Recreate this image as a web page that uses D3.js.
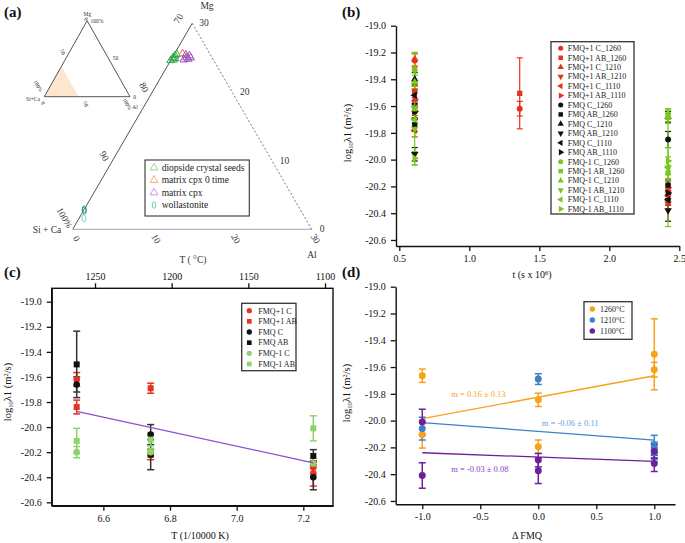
<!DOCTYPE html>
<html><head><meta charset="utf-8">
<script src="https://cdn.jsdelivr.net/npm/d3@7"></script>
<style>
body{margin:0;background:#fff;}
svg text{font-family:"Liberation Serif","Times New Roman",serif;}
</style></head>
<body><svg id="c" width="685" height="543"></svg>
<script>
// ---------------- DATA ----------------
// Panel (a): ternary compositions [Al %, Mg %] (remaining = Si + Ca)
const diopsideSeeds = [[0.1,25.0],[0.3,24.7],[0.2,25.3],[0.4,24.9],[0.0,24.6],[0.3,25.5]];
const matrixCpx0 = [[1.0,25.6]];
const matrixCpx = [[1.5,25.4],[1.8,25.0],[2.1,24.8],[1.6,24.7],[2.0,25.3],[2.3,25.0]];
const wollastonite = [[0.0,2.9],[0.1,2.7],[0.6,1.6]];
const insetShade = [[0,0],[0,40],[40,0]];
const ternLegend = ["diopside crystal seeds","matrix cpx 0 time","matrix cpx","wollastonite"];
const mainTicks = [0,10,20,30];

// Panel (b): log10 λ1 vs time
const bSeries = ["FMQ+1 C_1260","FMQ+1 AB_1260","FMQ+1 C_1210","FMQ+1 AB_1210","FMQ+1 C_1110","FMQ+1 AB_1110",
  "FMQ C_1260","FMQ AB_1260","FMQ C_1210","FMQ AB_1210","FMQ C_1110","FMQ AB_1110",
  "FMQ-1 C_1260","FMQ-1 AB_1260","FMQ-1 C_1210","FMQ-1 AB_1210","FMQ-1 C_1110","FMQ-1 AB_1110"];
const bTimes = [0.61, 1.36, 2.42];
// values per series at bTimes (null = none)
const bValues = [
  [-19.26,-19.62,null],[-19.49,-19.505,null],[-19.25,null,-20.23],[-19.62,null,-20.33],[-19.78,null,-20.27],[-19.55,null,-20.21],
  [-19.64,null,-19.85],[-19.74,null,-20.19],[-19.40,null,-19.68],[-19.96,null,-20.38],[-19.52,null,-20.30],[-19.64,null,-20.25],
  [-19.33,null,-19.66],[-19.62,null,-20.10],[-19.42,null,-19.68],[-19.77,null,-20.06],[-19.70,null,-20.06],[-19.99,null,-20.01]];
const bErrors = [
  [0.05,0.055,0],[0.05,0.265,0],[0.05,0,0.04],[0.05,0,0.04],[0.05,0,0.04],[0.05,0,0.05],
  [0.06,0,0.06],[0.05,0,0.04],[0.05,0,0.04],[0.05,0,0.08],[0.04,0,0.04],[0.05,0,0.04],
  [0.12,0,0.04],[0.42,0,0.05],[0.05,0,0.05],[0.06,0,0.08],[0.06,0,0.44],[0.05,0,0.10]];
const bXTicks = [0.5,1.0,1.5,2.0,2.5];
const yTicks = [-19.0,-19.2,-19.4,-19.6,-19.8,-20.0,-20.2,-20.4,-20.6];

// Panel (c): Arrhenius
const cSeries = ["FMQ+1 C","FMQ+1 AB","FMQ C","FMQ AB","FMQ-1 C","FMQ-1 AB"];
const cInvT = [6.52, 6.742, 7.23];
const cValues = [
  [-19.62,-20.22,-20.32],[-19.84,-19.69,-20.37],[-19.66,-20.06,-20.40],
  [-19.50,-20.22,-20.23],[-20.20,-20.20,-20.29],[-20.11,-20.10,-20.01]];
const cErrors = [
  [0.055,0.04,0.05],[0.055,0.04,0.10],[0.06,0.08,0.10],
  [0.265,0.12,0.05],[0.045,0.03,0.04],[0.10,0.05,0.10]];
const cFit = [[6.52,-19.875],[7.23,-20.285]];
const cXTicks = [6.6,6.8,7.0,7.2];
const cTopTicks = [1250,1200,1150,1100];

// Panel (d): log10 λ1 vs ΔFMQ
const dSeries = ["1260°C","1210°C","1100°C"];
const dX = [[-1,-1,0,0,1,1],[-1,0,1,1,1],[-1,-1,0,0,1,1]];
const dY = [[-19.665,-20.105,-19.845,-20.195,-19.505,-19.62],
            [-20.06,-19.69,-20.20,-20.22,-20.24],
            [-20.01,-20.41,-20.295,-20.375,-20.32,-20.23]];
const dErr = [[0.05,0.10,0.05,0.05,0.265,0.055],
              [0.085,0.04,0.09,0.06,0.07],
              [0.095,0.095,0.05,0.095,0.06,0.05]];
const dFit = [[[-1,-19.985],[1,-19.665]],[[-1,-20.015],[1,-20.145]],[[-1,-20.24],[1,-20.305]]];
const dSlopes = ["m = 0.16 ± 0.13","m = -0.06 ± 0.11","m = -0.03 ± 0.08"];
const dXTicks = [-1.0,-0.5,0.0,0.5,1.0];

// ---------------- DRAW ----------------
const svg = d3.select("#c");
const f1 = d3.format(".1f");
const fmt1 = v => f1(v).replace("−","-");
function styleAxis(g, fs){
  g.selectAll("path.domain").attr("stroke","#111").attr("stroke-width",1.4);
  g.selectAll(".tick line").attr("stroke","#111").attr("stroke-width",1.3);
  g.selectAll(".tick text").attr("font-family","Liberation Serif, serif").attr("font-size",fs||10).attr("fill","#111");
}
function yLabel(x,y){
  const t = svg.append("text").attr("transform",`translate(${x},${y}) rotate(-90)`)
    .attr("text-anchor","middle").attr("font-size",10.5).attr("fill","#111");
  t.append("tspan").text("log");
  t.append("tspan").attr("font-size",6.5).attr("dy",2).text("10");
  t.append("tspan").attr("dy",-2).text("λ1 (m");
  t.append("tspan").attr("font-size",6.5).attr("dy",-3.5).text("2");
  t.append("tspan").attr("dy",3.5).text("/s)");
}
function panelLabel(txt,x,y){
  svg.append("text").attr("x",x).attr("y",y).attr("font-size",15).attr("font-weight","bold").attr("fill","#111").text(txt);
}
function errBar(g,x,y1,y2,color,cap,sw){
  g.append("line").attr("x1",x).attr("x2",x).attr("y1",y1).attr("y2",y2).attr("stroke",color).attr("stroke-width",sw||1.3);
  [y1,y2].forEach(yy=>g.append("line").attr("x1",x-cap).attr("x2",x+cap).attr("y1",yy).attr("y2",yy).attr("stroke",color).attr("stroke-width",sw||1.3));
}
const symTypes = {circle:d3.symbolCircle, square:d3.symbolSquare, triangle:d3.symbolTriangle};
function marker(g,shape,x,y,size,color,rot){
  g.append("path").attr("d",d3.symbol().type(symTypes[shape]).size(size)())
    .attr("transform",`translate(${x},${y}) rotate(${rot||0})`).attr("fill",color);
}

// ===== Panel (a) =====
panelLabel("(a)",4,17);
const ga = svg.append("g");
const tx = d3.scaleLinear().domain([0,30]).range([72.7,311.7]);
const ty = d3.scaleLinear().domain([0,30]).range([229.3,23.3]);
const tp = d=>[tx(d[0]+d[1]/2), ty(d[1])];
const A=tp([0,0]),B=tp([30,0]),C=tp([0,30]);
ga.append("line").attr("x1",A[0]).attr("y1",A[1]).attr("x2",C[0]).attr("y2",C[1]).attr("stroke","#555").attr("stroke-width",1);
ga.append("line").attr("x1",A[0]).attr("y1",A[1]).attr("x2",B[0]).attr("y2",B[1]).attr("stroke","#b4b4cc").attr("stroke-width",1.3);
ga.append("line").attr("x1",B[0]).attr("y1",B[1]).attr("x2",C[0]).attr("y2",C[1]).attr("stroke","#555").attr("stroke-width",0.8).attr("stroke-dasharray","2,2");
const fsA=9.5;
mainTicks.forEach(v=>{
  const p=tp([0,v]);
  ga.append("text").attr("transform",`translate(${p[0]-11},${p[1]+(v===0?-10:-3)}) rotate(${v===30?-60:60})`)
    .attr("text-anchor","middle").attr("font-size",fsA).attr("fill","#333").text(v===0?"100%":String(100-v));
  const q=tp([v,0]);
  ga.append("text").attr("transform",`translate(${q[0]+1},${q[1]+11}) rotate(60)`)
    .attr("text-anchor","middle").attr("font-size",fsA).attr("fill","#333").text(v);
  const r=tp([30-v,v]);
  ga.append("text").attr("x",r[0]+(v===30?7:8)).attr("y",r[1]+3).attr("font-size",fsA).attr("fill","#333").text(v);
});
ga.append("text").attr("x",207).attr("y",9).attr("text-anchor","middle").attr("font-size",fsA).attr("fill","#333").text("Mg");
ga.append("text").attr("x",312).attr("y",258).attr("text-anchor","middle").attr("font-size",fsA).attr("fill","#333").text("Al");
ga.append("text").attr("x",47).attr("y",233).attr("text-anchor","middle").attr("font-size",fsA).attr("fill","#333").text("Si + Ca");
ga.append("text").attr("x",193).attr("y",263).attr("text-anchor","middle").attr("font-size",fsA).attr("fill","#333").text("T ( °C)");
// inset ternary
const ix = d3.scaleLinear().domain([0,100]).range([44.3,130]);
const iy = d3.scaleLinear().domain([0,100]).range([96.7,20.7]);
const ip = d=>[ix(d[0]+d[1]/2), iy(d[1])];
ga.append("polygon").attr("points",insetShade.map(d=>ip(d).join(",")).join(" ")).attr("fill","#fce6cf");
const iA=ip([0,0]),iB=ip([100,0]),iC=ip([0,100]);
ga.append("polygon").attr("points",[iA,iB,iC].map(d=>d.join(",")).join(" ")).attr("fill","none").attr("stroke","#555").attr("stroke-width",1);
const fsI=5.5;
function itext(x,y,t,rot){ga.append("text").attr("transform",`translate(${x},${y}) rotate(${rot||0})`).attr("text-anchor","middle").attr("font-size",fsI).attr("fill","#333").text(t);}
itext(87.3,16,"Mg"); itext(97,23,"100%"); itext(84.5,20,"0",60);
itext(61,53,"50",60); itext(115.5,60,"50"); itext(134.5,99,"0");
itext(135,109,"Al"); itext(125.5,105,"100%",60); itext(84,105,"50",60);
itext(33,101,"Si+Ca"); itext(36.5,87,"100%",60); itext(41.5,104,"0",60);
const triSym = d3.symbol().type(d3.symbolTriangle).size(26)();
function openTri(pts,col){
  pts.forEach(d=>{const p=tp(d);ga.append("path").attr("d",triSym).attr("transform",`translate(${p[0]},${p[1]})`).attr("fill","none").attr("stroke",col).attr("stroke-width",1);});
}
openTri(diopsideSeeds,"#2faa4a");
openTri(matrixCpx0,"#f07a3a");
openTri(matrixCpx,"#a24cc4");
wollastonite.forEach((d,i)=>{const p=tp(d);ga.append("ellipse").attr("cx",p[0]).attr("cy",p[1]).attr("rx",2).attr("ry",3.6).attr("fill","none").attr("stroke",i<2?"#2a9d8f":"#7fd3bf").attr("stroke-width",1);});
ga.append("rect").attr("x",145).attr("y",160).attr("width",104.3).attr("height",56).attr("fill","#fff").attr("stroke","#333").attr("stroke-width",1.1);
const legCols=["#8fd68f","#f4a070","#c98ae0","#5fc8b0"];
ternLegend.forEach((t,i)=>{
  const y=167.7+i*12.45;
  if(i<3) ga.append("path").attr("d",triSym).attr("transform",`translate(154,${y})`).attr("fill","none").attr("stroke",legCols[i]).attr("stroke-width",0.9);
  else ga.append("ellipse").attr("cx",154).attr("cy",y).attr("rx",1.8).attr("ry",3.3).attr("fill","none").attr("stroke",legCols[i]).attr("stroke-width",0.9);
  ga.append("text").attr("x",161.7).attr("y",y+3.2).attr("font-size",9.5).attr("fill","#222").text(t);
});

// ===== Panel (b) =====
panelLabel("(b)",342,17);
const bx = d3.scaleLinear().domain([0.4764,2.5]).range([396,679.3]);
const by = d3.scaleLinear().domain([-20.645,-19.0]).range([246,25.7]);
const gbx = svg.append("g").attr("transform","translate(0,246)").call(d3.axisBottom(bx).tickValues(bXTicks).tickFormat(fmt1).tickSize(5).tickPadding(4).tickSizeOuter(0));
styleAxis(gbx);
const gby = svg.append("g").attr("transform","translate(396,0)").call(d3.axisLeft(by).tickValues(yTicks).tickFormat(fmt1).tickSize(5).tickPadding(5).tickSizeOuter(0));
styleAxis(gby);
yLabel(351,133);
const bt = svg.append("text").attr("x",532).attr("y",278).attr("text-anchor","middle").attr("font-size",10).attr("fill","#111");
bt.append("tspan").text("t (s x 10"); bt.append("tspan").attr("font-size",6.5).attr("dy",-3.5).text("6"); bt.append("tspan").attr("dy",3.5).text(")");
const bColors = ["#e8321e","#111111","#78c81e"];
const bShapes = [["circle",0],["square",0],["triangle",0],["triangle",180],["triangle",-90],["triangle",90]];
const gb = svg.append("g");
bSeries.forEach((s,i)=>{
  const col=bColors[Math.floor(i/6)];
  bTimes.forEach((t,j)=>{const v=bValues[i][j]; if(v===null)return;
    errBar(gb,bx(t),by(v+bErrors[i][j]),by(v-bErrors[i][j]),col,3,1.2);});
});
bSeries.forEach((s,i)=>{
  const col=bColors[Math.floor(i/6)], sh=bShapes[i%6];
  bTimes.forEach((t,j)=>{const v=bValues[i][j]; if(v===null)return;
    marker(gb,sh[0],bx(t),by(v),sh[0]==="circle"?28:sh[0]==="square"?28:24,col,sh[1]);});
});
svg.append("rect").attr("x",551).attr("y",41.7).attr("width",83).attr("height",172.3).attr("fill","#fff").attr("stroke","#333").attr("stroke-width",1.3);
bSeries.forEach((s,i)=>{
  const y=48.3+i*9.45, col=bColors[Math.floor(i/6)], sh=bShapes[i%6];
  marker(svg,sh[0],560.7,y,sh[0]==="circle"?20:sh[0]==="square"?20:17,col,sh[1]);
  svg.append("text").attr("x",567.7).attr("y",y+2.8).attr("font-size",8).attr("fill","#222").text(s);
});

// ===== Panel (c) =====
panelLabel("(c)",4,277);
const cx = d3.scaleLinear().domain([6.445,7.2891]).range([51.7,333]);
const cy = d3.scaleLinear().domain([-20.627,-18.893]).range([505.7,288.3]);
const cT = d3.scaleLinear().domain([1250,1100]).range([95,325]);
svg.append("rect").attr("x",51.7).attr("y",288.3).attr("width",333-51.7).attr("height",505.7-288.3).attr("fill","none").attr("stroke","#111").attr("stroke-width",1.4);
const gcx = svg.append("g").attr("transform","translate(0,505.7)").call(d3.axisBottom(cx).tickValues(cXTicks).tickFormat(fmt1).tickSize(5).tickPadding(4).tickSizeOuter(0));
styleAxis(gcx);
const gct = svg.append("g").attr("transform","translate(0,288.3)").call(d3.axisTop(cT).tickValues(cTopTicks).tickFormat(d3.format("d")).tickSize(5).tickPadding(3).tickSizeOuter(0));
styleAxis(gct); gct.select("path.domain").remove();
const gcy = svg.append("g").attr("transform","translate(51.7,0)").call(d3.axisLeft(cy).tickValues(yTicks).tickFormat(fmt1).tickSize(5).tickPadding(5).tickSizeOuter(0));
styleAxis(gcy);
yLabel(11,392);
svg.append("text").attr("x",200).attr("y",539).attr("text-anchor","middle").attr("font-size",10).attr("fill","#111").text("T (1/10000 K)");
const cColors = ["#e8321e","#e8321e","#111111","#111111","#8ed46a","#8ed46a"];
const cShapes = ["circle","square","circle","square","circle","square"];
const gc = svg.append("g");
cSeries.forEach((s,i)=>{cInvT.forEach((t,j)=>{const v=cValues[i][j];
  errBar(gc,cx(t),cy(v+cErrors[i][j]),cy(v-cErrors[i][j]),cColors[i]==="#111111"?"#333":cColors[i],3.5,1.5);});});
cSeries.forEach((s,i)=>{cInvT.forEach((t,j)=>{marker(gc,cShapes[i],cx(t),cy(cValues[i][j]),cShapes[i]==="circle"?34:36,cColors[i]);});});
svg.append("line").attr("x1",cx(cFit[0][0])).attr("y1",cy(cFit[0][1])).attr("x2",cx(cFit[1][0])).attr("y2",cy(cFit[1][1]))
  .attr("stroke","#8a50d2").attr("stroke-width",1.2);
svg.append("rect").attr("x",241.7).attr("y",303.3).attr("width",54.3).attr("height",67.4).attr("fill","#fff").attr("stroke","#333").attr("stroke-width",1.3);
cSeries.forEach((s,i)=>{const y=310.7+i*10.66;
  marker(svg,cShapes[i],249.3,y,22,cColors[i]);
  svg.append("text").attr("x",258.3).attr("y",y+2.8).attr("font-size",8).attr("fill","#222").text(s);});

// ===== Panel (d) =====
panelLabel("(d)",342,277);
const dx = d3.scaleLinear().domain([-1.229,1.1785]).range([395.7,675]);
const dy = d3.scaleLinear().domain([-20.625,-19.0]).range([504.3,286.7]);
const gdx = svg.append("g").attr("transform","translate(0,504.3)").call(d3.axisBottom(dx).tickValues(dXTicks).tickFormat(fmt1).tickSize(5).tickPadding(4).tickSizeOuter(0));
styleAxis(gdx);
const gdy = svg.append("g").attr("transform","translate(395.7,0)").call(d3.axisLeft(dy).tickValues(yTicks).tickFormat(fmt1).tickSize(5).tickPadding(5).tickSizeOuter(0));
styleAxis(gdy);
yLabel(350,393);
svg.append("text").attr("x",527).attr("y",539).attr("text-anchor","middle").attr("font-size",10).attr("fill","#111").text("Δ FMQ");
const dColors = ["#f7a21b","#3f80c8","#6d1f9c"];
const gd = svg.append("g");
dFit.forEach((f,i)=>gd.append("line").attr("x1",dx(f[0][0])).attr("y1",dy(f[0][1])).attr("x2",dx(f[1][0])).attr("y2",dy(f[1][1])).attr("stroke",dColors[i]).attr("stroke-width",1.3));
dSeries.forEach((s,i)=>{dX[i].forEach((x,j)=>{const v=dY[i][j];
  errBar(gd,dx(x),dy(v+dErr[i][j]),dy(v-dErr[i][j]),dColors[i],3.5,1.5);});});
dSeries.forEach((s,i)=>{dX[i].forEach((x,j)=>marker(gd,"circle",dx(x),dy(dY[i][j]),38,dColors[i]));});
const slopePos = [[-0.75,-19.80],[0.03,-20.02],[-0.75,-20.36]];
const slopeCols = ["#f7a21b","#6aa0d8","#8a3fbf"];
dSlopes.forEach((t,i)=>svg.append("text").attr("x",dx(slopePos[i][0])).attr("y",dy(slopePos[i][1])).attr("dy",3).attr("font-size",8.5).attr("fill",slopeCols[i]).text(t));
svg.append("rect").attr("x",584).attr("y",301.7).attr("width",48).attr("height",37.6).attr("fill","#fff").attr("stroke","#333").attr("stroke-width",1.3);
dSeries.forEach((s,i)=>{const y=309+i*11;
  marker(svg,"circle",592.3,y,24,dColors[i]);
  svg.append("text").attr("x",600).attr("y",y+2.8).attr("font-size",8).attr("fill","#222").text(s);});
</script></body></html>
